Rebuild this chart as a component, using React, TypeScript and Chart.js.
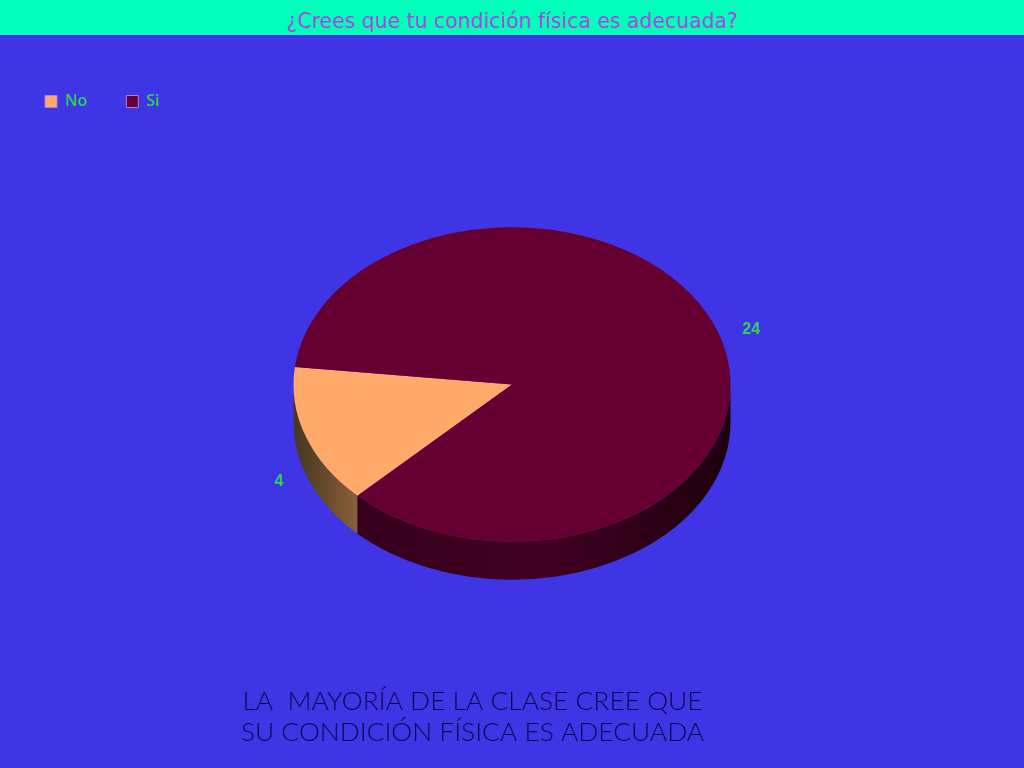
import React, { useEffect, useRef } from "react";
import { Chart, registerables } from "chart.js";

Chart.register(...registerables);

const categories = ["No", "Si"];
const answers = [4, 24];
const sliceColors = ["#FFA96B", "#660033"];
const titleText = "¿Crees que tu condición física es adecuada?";
const noteLines = ["LA  MAYORÍA DE LA CLASE CREE QUE", "SU CONDICIÓN FÍSICA ES ADECUADA"];

const BACKGROUND = "#4035E5";
const BAND = "#00FFBB";
const GREEN = "#2FD35A";
const SQUASH = 0.72;
const DEPTH = 38;

const pie3d = {
  id: "pie3d",
  beforeDraw(chart: any) {
    const { ctx, width, height } = chart;
    ctx.save();
    ctx.fillStyle = BACKGROUND;
    ctx.fillRect(0, 0, width, height);
    ctx.fillStyle = BAND;
    ctx.fillRect(0, 0, width, 35);
    ctx.restore();
  },
  beforeDatasetsDraw(chart: any) {
    const { ctx } = chart;
    const arcs = chart.getDatasetMeta(0).data;
    arcs.forEach((arc: any, index: number) => {
      const { x, y, startAngle, endAngle, outerRadius } = arc.getProps(
        ["x", "y", "startAngle", "endAngle", "outerRadius"],
        true
      );
      for (let turn = -2; turn <= 2; turn++) {
        const shift = turn * 2 * Math.PI;
        const from = Math.max(startAngle + shift, 0);
        const to = Math.min(endAngle + shift, Math.PI);
        if (to <= from) continue;
        const x1 = x + outerRadius * Math.cos(from);
        const x2 = x + outerRadius * Math.cos(to);
        const left = Math.min(x1, x2);
        const right = Math.max(x1, x2);
        const gradient = ctx.createLinearGradient(left, 0, right, 0);
        if (index === 0) {
          gradient.addColorStop(0, "#453620");
          gradient.addColorStop(1, "#8A6038");
        } else {
          gradient.addColorStop(0, "#36001C");
          gradient.addColorStop(0.5, "#420022");
          gradient.addColorStop(1, "#1E000F");
        }
        ctx.save();
        ctx.beginPath();
        ctx.ellipse(x, y, outerRadius, outerRadius * SQUASH, 0, from, to, false);
        ctx.ellipse(x, y + DEPTH, outerRadius, outerRadius * SQUASH, 0, to, from, true);
        ctx.closePath();
        ctx.fillStyle = gradient;
        ctx.fill();
        ctx.restore();
      }
    });
    const cy = arcs[0].y;
    ctx.save();
    ctx.translate(0, cy);
    ctx.scale(1, SQUASH);
    ctx.translate(0, -cy);
  },
  afterDatasetsDraw(chart: any) {
    const { ctx } = chart;
    ctx.restore();
    const arcs = chart.getDatasetMeta(0).data;
    ctx.save();
    ctx.font = "bold 16px 'Liberation Sans'";
    ctx.fillStyle = GREEN;
    ctx.textAlign = "center";
    ctx.textBaseline = "middle";
    arcs.forEach((arc: any, index: number) => {
      const { x, y, startAngle, endAngle, outerRadius } = arc.getProps(
        ["x", "y", "startAngle", "endAngle", "outerRadius"],
        true
      );
      const mid = (startAngle + endAngle) / 2;
      const sin = Math.sin(mid);
      const reach = outerRadius * (sin > 0 ? 1.13 : 1.16);
      const px = x + reach * Math.cos(mid);
      const py = y + reach * SQUASH * sin + (sin > 0 ? DEPTH : 5);
      ctx.fillText(String(answers[index]), px, py);
    });
    ctx.restore();
  },
  afterDraw(chart: any) {
    const { ctx } = chart;
    ctx.save();
    ctx.font = "300 26.4px 'Lato'";
    ctx.fillStyle = "#0A0A50";
    ctx.textAlign = "center";
    ctx.textBaseline = "middle";
    noteLines.forEach((line, index) => {
      ctx.fillText(line, 472.5, 701 + index * 31);
    });
    ctx.restore();
  },
};

export default function App() {
  const ref = useRef<HTMLCanvasElement>(null);
  useEffect(() => {
    const chart = new Chart(ref.current as HTMLCanvasElement, {
      type: "pie",
      data: {
        labels: categories,
        datasets: [
          {
            data: answers,
            backgroundColor: sliceColors,
            borderWidth: 0,
            radius: 218.5,
          } as any,
        ],
      },
      plugins: [pie3d],
      options: {
        responsive: false,
        animation: false,
        rotation: 225,
        layout: { padding: { left: 6, right: 6, top: 0, bottom: 118.5 } },
        plugins: {
          tooltip: { enabled: false },
          title: {
            display: true,
            text: titleText,
            color: "#B040E0",
            font: { family: "'DejaVu Sans'", size: 20.4, weight: "normal" },
            padding: { top: 10, bottom: 20 },
          },
          legend: {
            display: true,
            position: "top",
            align: "start",
            labels: {
              boxWidth: 12,
              boxHeight: 12,
              padding: 39,
              color: GREEN,
              font: { family: "'Open Sans'", size: 16, weight: "600" },
              generateLabels: () =>
                categories.map((text, index) => ({
                  text,
                  fillStyle: sliceColors[index],
                  strokeStyle: "#B080E0",
                  lineWidth: 1,
                  fontColor: GREEN,
                  hidden: false,
                  index,
                })),
            },
          },
        },
      } as any,
    });
    return () => chart.destroy();
  }, []);
  return (
    <div style={{ position: "fixed", left: 0, top: 0, width: 1024, height: 768 }}>
      <canvas ref={ref} width={1024} height={768} style={{ display: "block" }} />
    </div>
  );
}
